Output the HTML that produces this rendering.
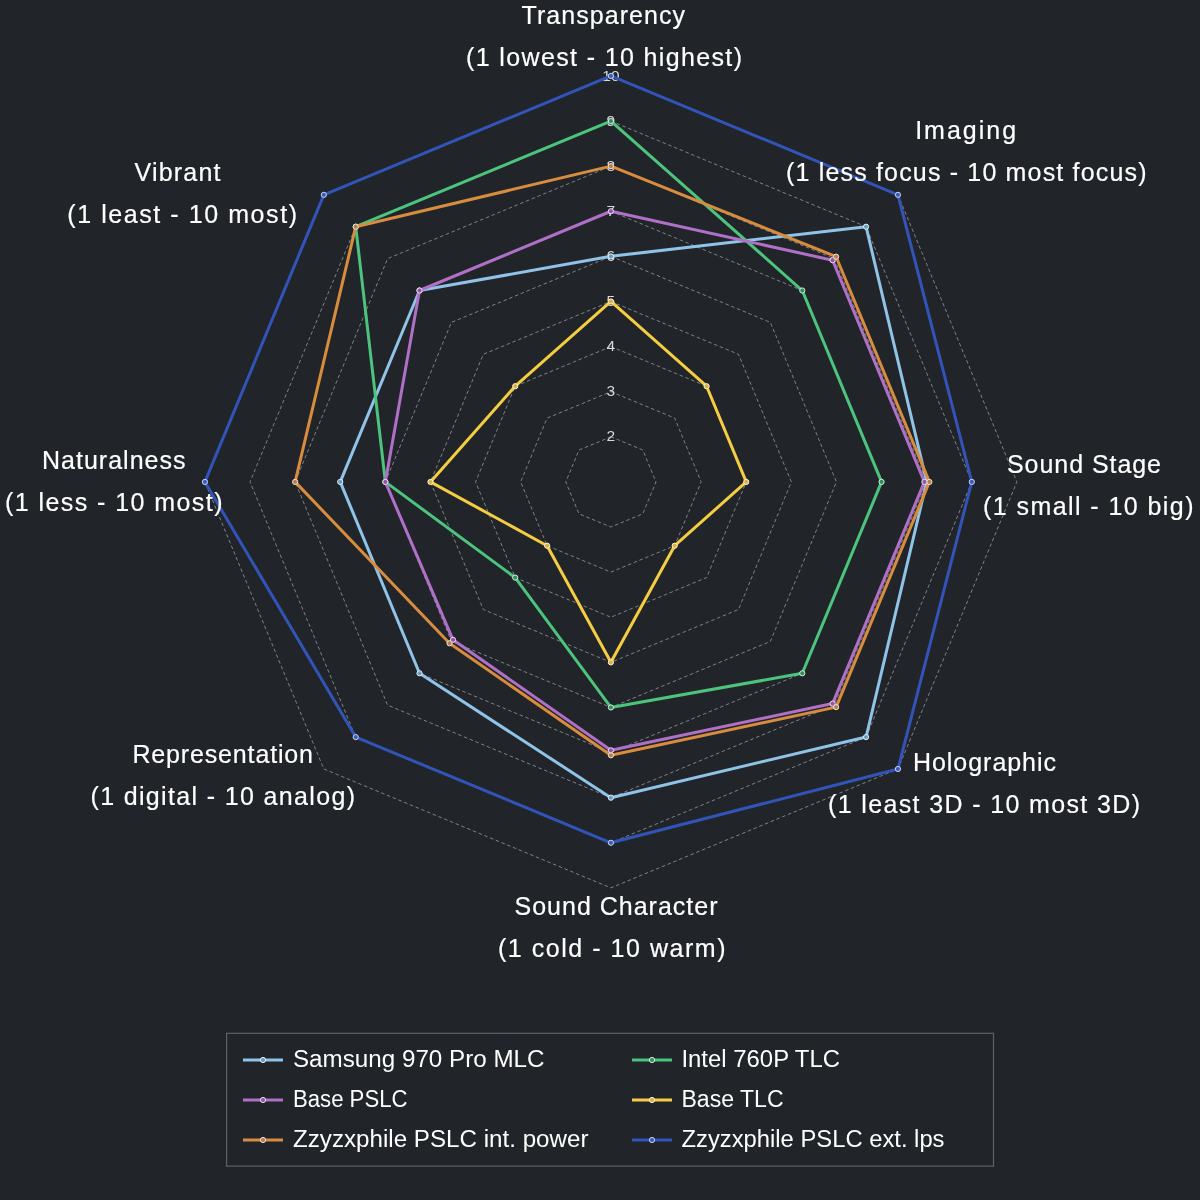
<!DOCTYPE html><html><head><meta charset="utf-8"><style>
html,body{margin:0;padding:0;background:#212529;}
svg{display:block;will-change:transform;}
text{font-family:"Liberation Sans",sans-serif;}
</style></head><body>
<svg width="1200" height="1200" viewBox="0 0 1200 1200">
<rect width="1200" height="1200" fill="#212529"/>
<g fill="none" stroke="#7e8185" stroke-width="1" stroke-dasharray="3.6,2.6">
<polygon points="610.90,436.79 642.80,450.00 656.01,481.90 642.80,513.80 610.90,527.01 579.00,513.80 565.79,481.90 579.00,450.00"/>
<polygon points="610.90,391.68 674.70,418.10 701.12,481.90 674.70,545.70 610.90,572.12 547.10,545.70 520.68,481.90 547.10,418.10"/>
<polygon points="610.90,346.57 706.59,386.21 746.23,481.90 706.59,577.59 610.90,617.23 515.21,577.59 475.57,481.90 515.21,386.21"/>
<polygon points="610.90,301.46 738.49,354.31 791.34,481.90 738.49,609.49 610.90,662.34 483.31,609.49 430.46,481.90 483.31,354.31"/>
<polygon points="610.90,256.35 770.39,322.41 836.45,481.90 770.39,641.39 610.90,707.45 451.41,641.39 385.35,481.90 451.41,322.41"/>
<polygon points="610.90,211.24 802.29,290.51 881.56,481.90 802.29,673.29 610.90,752.56 419.51,673.29 340.24,481.90 419.51,290.51"/>
<polygon points="610.90,166.13 834.18,258.62 926.67,481.90 834.18,705.18 610.90,797.67 387.62,705.18 295.13,481.90 387.62,258.62"/>
<polygon points="610.90,121.02 866.08,226.72 971.78,481.90 866.08,737.08 610.90,842.78 355.72,737.08 250.02,481.90 355.72,226.72"/>
<polygon points="610.90,75.91 897.98,194.82 1016.89,481.90 897.98,768.98 610.90,887.89 323.82,768.98 204.91,481.90 323.82,194.82"/>
</g>
<g fill="#d9d9d9" font-size="15.5" text-anchor="middle">
<text x="610.9" y="441.4">2</text>
<text x="610.9" y="396.3">3</text>
<text x="610.9" y="351.2">4</text>
<text x="610.9" y="306.1">5</text>
<text x="610.9" y="260.9">6</text>
<text x="610.9" y="215.8">7</text>
<text x="610.9" y="170.7">8</text>
<text x="610.9" y="125.6">9</text>
<text x="610.9" y="80.5">10</text>
</g>
<polygon points="610.90,256.35 866.08,226.72 926.67,481.90 866.08,737.08 610.90,797.67 419.51,673.29 340.24,481.90 419.51,290.51" fill="none" stroke="#8fc3e8" stroke-width="3" stroke-linejoin="round"/>
<circle cx="610.90" cy="256.35" r="2.6" fill="#6a9cc0" stroke="#e3f0f9" stroke-width="1"/>
<circle cx="866.08" cy="226.72" r="2.6" fill="#6a9cc0" stroke="#e3f0f9" stroke-width="1"/>
<circle cx="926.67" cy="481.90" r="2.6" fill="#6a9cc0" stroke="#e3f0f9" stroke-width="1"/>
<circle cx="866.08" cy="737.08" r="2.6" fill="#6a9cc0" stroke="#e3f0f9" stroke-width="1"/>
<circle cx="610.90" cy="797.67" r="2.6" fill="#6a9cc0" stroke="#e3f0f9" stroke-width="1"/>
<circle cx="419.51" cy="673.29" r="2.6" fill="#6a9cc0" stroke="#e3f0f9" stroke-width="1"/>
<circle cx="340.24" cy="481.90" r="2.6" fill="#6a9cc0" stroke="#e3f0f9" stroke-width="1"/>
<circle cx="419.51" cy="290.51" r="2.6" fill="#6a9cc0" stroke="#e3f0f9" stroke-width="1"/>
<polygon points="610.90,121.02 802.29,290.51 881.56,481.90 802.29,673.29 610.90,707.45 515.21,577.59 385.35,481.90 355.72,226.72" fill="none" stroke="#4cc47e" stroke-width="3" stroke-linejoin="round"/>
<circle cx="610.90" cy="121.02" r="2.6" fill="#348c5c" stroke="#d2f0de" stroke-width="1"/>
<circle cx="802.29" cy="290.51" r="2.6" fill="#348c5c" stroke="#d2f0de" stroke-width="1"/>
<circle cx="881.56" cy="481.90" r="2.6" fill="#348c5c" stroke="#d2f0de" stroke-width="1"/>
<circle cx="802.29" cy="673.29" r="2.6" fill="#348c5c" stroke="#d2f0de" stroke-width="1"/>
<circle cx="610.90" cy="707.45" r="2.6" fill="#348c5c" stroke="#d2f0de" stroke-width="1"/>
<circle cx="515.21" cy="577.59" r="2.6" fill="#348c5c" stroke="#d2f0de" stroke-width="1"/>
<circle cx="385.35" cy="481.90" r="2.6" fill="#348c5c" stroke="#d2f0de" stroke-width="1"/>
<circle cx="355.72" cy="226.72" r="2.6" fill="#348c5c" stroke="#d2f0de" stroke-width="1"/>
<polygon points="610.90,301.46 706.59,386.21 746.23,481.90 674.70,545.70 610.90,662.34 547.10,545.70 430.46,481.90 515.21,386.21" fill="none" stroke="#f5cd42" stroke-width="3" stroke-linejoin="round"/>
<circle cx="610.90" cy="301.46" r="2.6" fill="#dcb048" stroke="#fcf2cf" stroke-width="1"/>
<circle cx="706.59" cy="386.21" r="2.6" fill="#dcb048" stroke="#fcf2cf" stroke-width="1"/>
<circle cx="746.23" cy="481.90" r="2.6" fill="#dcb048" stroke="#fcf2cf" stroke-width="1"/>
<circle cx="674.70" cy="545.70" r="2.6" fill="#dcb048" stroke="#fcf2cf" stroke-width="1"/>
<circle cx="610.90" cy="662.34" r="2.6" fill="#dcb048" stroke="#fcf2cf" stroke-width="1"/>
<circle cx="547.10" cy="545.70" r="2.6" fill="#dcb048" stroke="#fcf2cf" stroke-width="1"/>
<circle cx="430.46" cy="481.90" r="2.6" fill="#dcb048" stroke="#fcf2cf" stroke-width="1"/>
<circle cx="515.21" cy="386.21" r="2.6" fill="#dcb048" stroke="#fcf2cf" stroke-width="1"/>
<polygon points="610.90,166.13 836.10,256.70 929.38,481.90 836.10,707.10 610.90,755.27 449.50,643.30 295.13,481.90 355.72,226.72" fill="none" stroke="#d88c3e" stroke-width="3" stroke-linejoin="round"/>
<circle cx="610.90" cy="166.13" r="2.6" fill="#b08054" stroke="#f5e2ce" stroke-width="1"/>
<circle cx="836.10" cy="256.70" r="2.6" fill="#b08054" stroke="#f5e2ce" stroke-width="1"/>
<circle cx="929.38" cy="481.90" r="2.6" fill="#b08054" stroke="#f5e2ce" stroke-width="1"/>
<circle cx="836.10" cy="707.10" r="2.6" fill="#b08054" stroke="#f5e2ce" stroke-width="1"/>
<circle cx="610.90" cy="755.27" r="2.6" fill="#b08054" stroke="#f5e2ce" stroke-width="1"/>
<circle cx="449.50" cy="643.30" r="2.6" fill="#b08054" stroke="#f5e2ce" stroke-width="1"/>
<circle cx="295.13" cy="481.90" r="2.6" fill="#b08054" stroke="#f5e2ce" stroke-width="1"/>
<circle cx="355.72" cy="226.72" r="2.6" fill="#b08054" stroke="#f5e2ce" stroke-width="1"/>
<polygon points="610.90,211.24 832.59,260.21 924.41,481.90 832.59,703.59 610.90,750.30 453.01,639.79 385.35,481.90 419.51,290.51" fill="none" stroke="#b070c8" stroke-width="3" stroke-linejoin="round"/>
<circle cx="610.90" cy="211.24" r="2.6" fill="#8e58a6" stroke="#ebdbf1" stroke-width="1"/>
<circle cx="832.59" cy="260.21" r="2.6" fill="#8e58a6" stroke="#ebdbf1" stroke-width="1"/>
<circle cx="924.41" cy="481.90" r="2.6" fill="#8e58a6" stroke="#ebdbf1" stroke-width="1"/>
<circle cx="832.59" cy="703.59" r="2.6" fill="#8e58a6" stroke="#ebdbf1" stroke-width="1"/>
<circle cx="610.90" cy="750.30" r="2.6" fill="#8e58a6" stroke="#ebdbf1" stroke-width="1"/>
<circle cx="453.01" cy="639.79" r="2.6" fill="#8e58a6" stroke="#ebdbf1" stroke-width="1"/>
<circle cx="385.35" cy="481.90" r="2.6" fill="#8e58a6" stroke="#ebdbf1" stroke-width="1"/>
<circle cx="419.51" cy="290.51" r="2.6" fill="#8e58a6" stroke="#ebdbf1" stroke-width="1"/>
<polygon points="610.90,75.91 897.98,194.82 971.78,481.90 897.98,768.98 610.90,842.78 355.72,737.08 204.91,481.90 323.82,194.82" fill="none" stroke="#3253b8" stroke-width="3" stroke-linejoin="round"/>
<circle cx="610.90" cy="75.91" r="2.6" fill="#3a5cc0" stroke="#cbd4ed" stroke-width="1"/>
<circle cx="897.98" cy="194.82" r="2.6" fill="#3a5cc0" stroke="#cbd4ed" stroke-width="1"/>
<circle cx="971.78" cy="481.90" r="2.6" fill="#3a5cc0" stroke="#cbd4ed" stroke-width="1"/>
<circle cx="897.98" cy="768.98" r="2.6" fill="#3a5cc0" stroke="#cbd4ed" stroke-width="1"/>
<circle cx="610.90" cy="842.78" r="2.6" fill="#3a5cc0" stroke="#cbd4ed" stroke-width="1"/>
<circle cx="355.72" cy="737.08" r="2.6" fill="#3a5cc0" stroke="#cbd4ed" stroke-width="1"/>
<circle cx="204.91" cy="481.90" r="2.6" fill="#3a5cc0" stroke="#cbd4ed" stroke-width="1"/>
<circle cx="323.82" cy="194.82" r="2.6" fill="#3a5cc0" stroke="#cbd4ed" stroke-width="1"/>
<g stroke="#ffffff" stroke-width="0.20">
<text x="521.49" y="24.20" font-size="25.00" fill="#ffffff" textLength="163.51" lengthAdjust="spacing">Transparency</text>
<text x="465.99" y="65.90" font-size="25.00" fill="#ffffff" textLength="276.01" lengthAdjust="spacing">(1 lowest - 10 highest)</text>
<text x="915.18" y="138.80" font-size="25.00" fill="#ffffff" textLength="100.88" lengthAdjust="spacing">Imaging</text>
<text x="785.99" y="180.70" font-size="25.00" fill="#ffffff" textLength="360.52" lengthAdjust="spacing">(1 less focus - 10 most focus)</text>
<text x="1006.99" y="473.30" font-size="25.00" fill="#ffffff" textLength="154.03" lengthAdjust="spacing">Sound Stage</text>
<text x="982.99" y="514.80" font-size="25.00" fill="#ffffff" textLength="210.53" lengthAdjust="spacing">(1 small - 10 big)</text>
<text x="912.96" y="770.70" font-size="25.00" fill="#ffffff" textLength="143.05" lengthAdjust="spacing">Holographic</text>
<text x="827.99" y="812.80" font-size="25.00" fill="#ffffff" textLength="312.01" lengthAdjust="spacing">(1 least 3D - 10 most 3D)</text>
<text x="514.49" y="915.00" font-size="25.00" fill="#ffffff" textLength="203.01" lengthAdjust="spacing">Sound Character</text>
<text x="497.98" y="957.00" font-size="25.00" fill="#ffffff" textLength="227.54" lengthAdjust="spacing">(1 cold - 10 warm)</text>
<text x="132.47" y="762.80" font-size="25.00" fill="#ffffff" textLength="180.54" lengthAdjust="spacing">Representation</text>
<text x="90.49" y="804.70" font-size="25.00" fill="#ffffff" textLength="264.52" lengthAdjust="spacing">(1 digital - 10 analog)</text>
<text x="41.97" y="469.00" font-size="25.00" fill="#ffffff" textLength="143.54" lengthAdjust="spacing">Naturalness</text>
<text x="4.97" y="510.70" font-size="25.00" fill="#ffffff" textLength="217.55" lengthAdjust="spacing">(1 less - 10 most)</text>
<text x="134.50" y="180.90" font-size="25.00" fill="#ffffff" textLength="86.01" lengthAdjust="spacing">Vibrant</text>
<text x="67.23" y="222.90" font-size="25.00" fill="#ffffff" textLength="229.79" lengthAdjust="spacing">(1 least - 10 most)</text>
</g>
<rect x="226.6" y="1033.3" width="766.9" height="132.8" fill="none" stroke="#5f6368" stroke-width="1.2"/>
<line x1="243.0" y1="1060.0" x2="283.0" y2="1060.0" stroke="#8fc3e8" stroke-width="3"/>
<circle cx="263.0" cy="1060.0" r="2.6" fill="#6a9cc0" stroke="#e3f0f9" stroke-width="1"/>
<text x="292.99" y="1066.80" font-size="23.00" fill="#ffffff" textLength="251.53" lengthAdjust="spacingAndGlyphs">Samsung 970 Pro MLC</text>
<line x1="632.0" y1="1060.0" x2="672.0" y2="1060.0" stroke="#4cc47e" stroke-width="3"/>
<circle cx="652.0" cy="1060.0" r="2.6" fill="#348c5c" stroke="#d2f0de" stroke-width="1"/>
<text x="681.45" y="1066.80" font-size="23.00" fill="#ffffff" textLength="158.57" lengthAdjust="spacingAndGlyphs">Intel 760P TLC</text>
<line x1="243.0" y1="1100.0" x2="283.0" y2="1100.0" stroke="#b070c8" stroke-width="3"/>
<circle cx="263.0" cy="1100.0" r="2.6" fill="#8e58a6" stroke="#ebdbf1" stroke-width="1"/>
<text x="292.95" y="1106.80" font-size="23.00" fill="#ffffff" textLength="114.60" lengthAdjust="spacingAndGlyphs">Base PSLC</text>
<line x1="632.0" y1="1100.0" x2="672.0" y2="1100.0" stroke="#f5cd42" stroke-width="3"/>
<circle cx="652.0" cy="1100.0" r="2.6" fill="#dcb048" stroke="#fcf2cf" stroke-width="1"/>
<text x="681.43" y="1106.80" font-size="23.00" fill="#ffffff" textLength="102.12" lengthAdjust="spacingAndGlyphs">Base TLC</text>
<line x1="243.0" y1="1140.0" x2="283.0" y2="1140.0" stroke="#d88c3e" stroke-width="3"/>
<circle cx="263.0" cy="1140.0" r="2.6" fill="#b08054" stroke="#f5e2ce" stroke-width="1"/>
<text x="293.00" y="1146.80" font-size="23.00" fill="#ffffff" textLength="295.51" lengthAdjust="spacingAndGlyphs">Zzyzxphile PSLC int. power</text>
<line x1="632.0" y1="1140.0" x2="672.0" y2="1140.0" stroke="#3253b8" stroke-width="3"/>
<circle cx="652.0" cy="1140.0" r="2.6" fill="#3a5cc0" stroke="#cbd4ed" stroke-width="1"/>
<text x="681.49" y="1146.80" font-size="23.00" fill="#ffffff" textLength="263.02" lengthAdjust="spacingAndGlyphs">Zzyzxphile PSLC ext. lps</text>
</svg></body></html>
